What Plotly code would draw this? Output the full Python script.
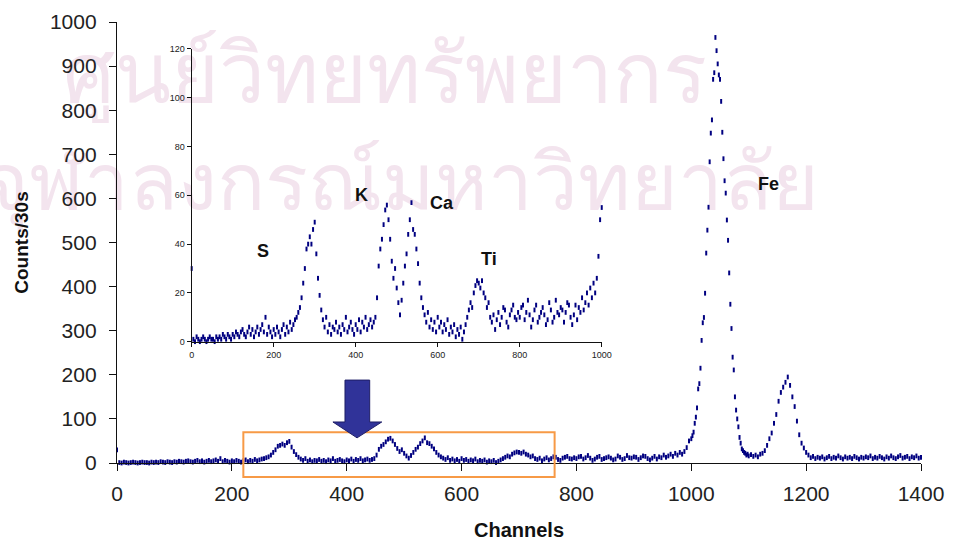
import numpy as np
import plotly.graph_objects as go

# Spectrum counts (counts per 30 s) read per channel block
# channels 0..996, step 4
counts_low = [
    30, 1, 0, 2, 1, 0, 1, 2, 1, 0, 1, 2, 1, 1, 0, 2, 1, 2, 1, 3, 2, 1, 3, 2, 1,
    3, 2, 4, 3, 2, 4, 5, 3, 2, 4, 6, 3, 5, 2, 4, 6, 3, 5, 7, 4, 10, 3, 6, 4, 2,
    5, 3, 6, 4, 2, 5, 7, 3, 6, 4, 8, 5, 7, 9, 10, 12, 14, 18, 24, 30, 38, 40, 43, 40, 46,
    49, 36, 26, 19, 13, 9, 6, 10, 4, 7, 3, 6, 5, 8, 4, 6, 3, 7, 5, 10, 4, 6, 8, 5, 3,
    7, 5, 9, 4, 8, 6, 10, 5, 7, 9, 6, 8, 10, 18, 31, 38, 42, 48, 54, 56, 50, 42, 33, 26, 30,
    22, 16, 11, 17, 24, 31, 36, 44, 50, 57, 46, 44, 38, 32, 24, 18, 14, 11, 8, 12, 6, 9, 5, 8, 4,
    10, 6, 8, 4, 7, 5, 9, 3, 6, 4, 7, 2, 5, 3, 6, 1, 4, 7, 10, 13, 16, 14, 20, 23, 25,
    24, 22, 25, 20, 18, 14, 16, 10, 8, 11, 5, 9, 12, 7, 10, 14, 13, 8, 6, 11, 13, 15, 10, 9, 12,
    10, 14, 15, 9, 12, 17, 11, 6, 9, 13, 15, 8, 10, 12, 14, 11, 7, 9, 16, 13, 8, 10, 17, 12, 11,
    14, 13, 8, 12, 16, 15, 10, 7, 11, 15, 9, 14, 12, 18, 13, 16, 20, 15, 22, 18, 24, 20, 26, 35, 50,
]
# channels 1000..1098, step 2 (Fe K-alpha)
counts_fe = [
    55, 62, 70, 90, 104, 125, 168, 180, 215, 278, 318, 330, 385, 476, 528, 580, 683, 748, 778, 870,
    885, 965, 935, 905, 880, 870, 820, 750, 690, 640, 612, 551, 505, 431, 360, 305, 240, 211, 150, 120,
    100, 82, 58, 45, 32, 28, 24, 22, 18, 20,
]
# channels 1100..1400, step 4 (Fe K-beta and tail)
counts_high = [
    16, 19, 15, 18, 14, 20, 22, 28, 40, 55, 68, 90, 110, 140, 160, 172, 183, 195, 176, 150,
    128, 95, 64, 45, 34, 24, 18, 12, 15, 10, 13, 11, 14, 9, 12, 15, 10, 13, 11, 16,
    12, 9, 14, 11, 13, 10, 15, 12, 9, 13, 11, 14, 12, 16, 10, 13, 11, 15, 12, 9,
    14, 11, 16, 12, 10, 14, 17, 11, 13, 15, 10, 14, 12, 16, 11, 13,
]

channels_low = np.arange(0, 1000, 4)
channels_fe = np.arange(1000, 1100, 2)
channels_high = np.arange(1100, 1401, 4)

channels = np.concatenate([channels_low, channels_fe, channels_high])
counts = np.array(counts_low + counts_fe + counts_high)

inset_mask = channels <= 1000

main_ticks = list(range(0, 1401, 200))
main_yticks = list(range(0, 1001, 100))
inset_xticks = list(range(0, 1001, 200))
inset_yticks = list(range(0, 121, 20))

peak_labels = [
    ("S", 174, 37, "x2", "y2"),
    ("K", 413, 60, "x2", "y2"),
    ("Ca", 610, 57, "x2", "y2"),
    ("Ti", 725, 34, "x2", "y2"),
    ("Fe", 1134, 632, "x", "y"),
]

watermark_lines = ["ศูนย์วิทยทรัพยากร", "จุฬาลงกรณ์มหาวิทยาลัย"]
watermark_x = [467, 493]
watermark_y = [866, 618]

NAVY = "#000080"
FONT = "Liberation Sans, Arial, sans-serif"
THAI_FONT = "Noto Sans, DejaVu Sans, sans-serif"

marker_style = dict(symbol="line-ns", size=3.4, color=NAVY, line=dict(width=2, color=NAVY))

fig = go.Figure()
# pale institutional watermark, drawn first so every mark sits above it
fig.add_trace(go.Scatter(
    x=watermark_x[:1], y=watermark_y[:1], mode="text", text=watermark_lines[:1],
    textfont=dict(size=82, family=THAI_FONT, color="#f3e4ee"),
    xaxis="x", yaxis="y", showlegend=False, hoverinfo="skip", cliponaxis=False,
))
fig.add_trace(go.Scatter(
    x=watermark_x[1:], y=watermark_y[1:], mode="text", text=watermark_lines[1:],
    textfont=dict(size=80, family=THAI_FONT, color="#f3e4ee"),
    xaxis="x", yaxis="y", showlegend=False, hoverinfo="skip", cliponaxis=False,
))
fig.add_trace(go.Scatter(
    x=channels, y=counts, mode="markers", marker=marker_style,
    xaxis="x", yaxis="y", showlegend=False, cliponaxis=False,
))
fig.add_trace(go.Scatter(
    x=channels[inset_mask], y=counts[inset_mask], mode="markers", marker=marker_style,
    xaxis="x2", yaxis="y2", showlegend=False, cliponaxis=False,
))

axis_common = dict(
    showgrid=False, zeroline=False, showline=True, linecolor="#111111",
    linewidth=1.3, ticks="outside", tickcolor="#111111", automargin=False,
)

fig.update_layout(
    width=953, height=541,
    margin=dict(l=117, r=32, t=22, b=78),
    paper_bgcolor="white", plot_bgcolor="rgba(0,0,0,0)",
    font=dict(family=FONT, color="#1a1a1a"),
    xaxis=dict(
        **axis_common, range=[0, 1400], tickvals=main_ticks, ticklen=7,
        ticklabelstandoff=5,
        tickfont=dict(size=21, family=FONT, color="#222222"),
        title=dict(text="<b>Channels</b>", font=dict(size=20, family=FONT, color="#111111"), standoff=20),
        domain=[0, 1],
    ),
    yaxis=dict(
        **axis_common, range=[0, 1000], tickvals=main_yticks, ticklen=7,
        ticklabelstandoff=8,
        tickfont=dict(size=21, family=FONT, color="#222222"),
        title=dict(text="<b>Counts/30s</b>", font=dict(size=19, family=FONT, color="#111111"), standoff=16),
        domain=[0, 1],
    ),
    xaxis2=dict(
        **axis_common, range=[0, 1000], tickvals=inset_xticks, ticklen=4,
        tickfont=dict(size=9, family=FONT, color="#222222"),
        domain=[0.0929, 0.6029], anchor="y2",
    ),
    yaxis2=dict(
        **axis_common, range=[0, 120], tickvals=inset_yticks, ticklen=4,
        tickfont=dict(size=9, family=FONT, color="#222222"),
        domain=[0.2751, 0.9388], anchor="x2",
    ),
)

for text, cx, cy, xr, yr in peak_labels:
    fig.add_annotation(
        text=f"<b>{text}</b>", x=cx, y=cy, xref=xr, yref=yr, showarrow=False,
        font=dict(size=18, family=FONT, color="#111111"),
    )

# highlighted channel window and pointer arrow
fig.add_shape(
    type="rect", xref="x", yref="paper", x0=220, x1=762, y0=-0.032, y1=0.070,
    line=dict(color="#f79a46", width=2), fillcolor="rgba(0,0,0,0)",
)
arrow_path = "M 397 188 L 440 188 L 440 93 L 461 93 L 418 57 L 376 93 L 397 93 Z"
fig.add_shape(
    type="path", xref="x", yref="y", path=arrow_path,
    fillcolor="#303399", line=dict(color="#1e1e66", width=1),
)

fig.write_html("out.html")
